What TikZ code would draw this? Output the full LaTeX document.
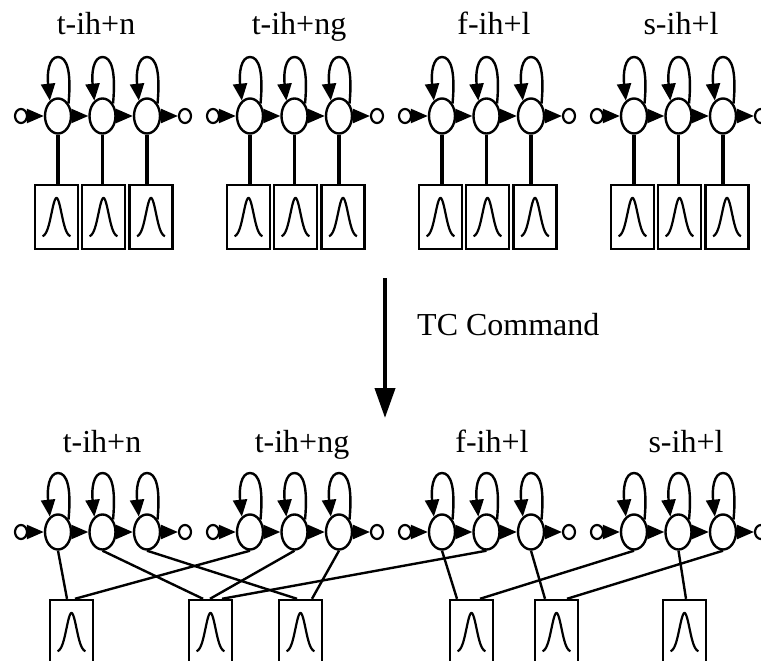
\documentclass[tikz,border=0pt]{standalone}
\usepackage{fontspec}
\setmainfont{Liberation Serif}
\usetikzlibrary{arrows.meta,shapes.geometric}

\begin{document}
\begin{tikzpicture}[x=1pt, y=-1pt,
  font=\fontsize{32}{38}\selectfont,
  state/.style={draw, ellipse, line width=2.4pt, minimum width=26pt, minimum height=35pt, inner sep=0pt},
  term/.style={draw, ellipse, line width=2.2pt, minimum width=12pt, minimum height=14pt, inner sep=0pt},
  pdfbox/.style={draw, line width=2.4pt, minimum width=43pt, minimum height=64pt, inner sep=0pt,
    path picture={\draw[line width=2.2pt, shift={(path picture bounding box.center)}]
      plot[domain=-14:14, samples=50, smooth] (\x, {20-39*exp(-((\x)^2)/50)});}},
  trans/.style={-{Triangle[length=17pt,width=14pt]}, line width=2.4pt},
  stem/.style={line width=3.6pt},
  tie/.style={line width=2.4pt},
  big/.style={-{Triangle[length=30pt,width=20pt]}, line width=4pt}]
  \useasboundingbox (0,0) rectangle (761,661);
  % both rows of HMMs
  \foreach \r/\ry in {a/116,b/532}{
    \foreach \g/\gx in {1/58,2/250,3/442,4/634}{
      \node[term] (\r\g i) at (\gx-37,\ry) {};
      \foreach \s/\dx in {1/0,2/44.5,3/89}{
        \node[state] (\r\g\s) at (\gx+\dx,\ry) {};
        \path (\r\g\s.center) ++(0,-59) coordinate (\r\g\s t);
        \draw[trans] (\r\g\s.50) .. controls +(3,-32) and +(9,0) .. (\r\g\s t)
          .. controls +(-9,0) and +(-3,-28) .. (\r\g\s.118);
      }
      \node[term] (\r\g o) at (\gx+127,\ry) {};
      \draw[trans] (\r\g i) -- (\r\g 1);
      \draw[trans] (\r\g 1) -- (\r\g 2);
      \draw[trans] (\r\g 2) -- (\r\g 3);
      \draw[trans] (\r\g 3) -- (\r\g o);
    }
  }
  % model names
  \foreach \n/\txt/\lx/\ly in {ta/t-ih+n/96/35, tb/t-ih+ng/299/35, tc/f-ih+l/494/35, td/s-ih+l/681/35,
                               ba/t-ih+n/102/452, bb/t-ih+ng/302/452, bc/f-ih+l/492/452, bd/s-ih+l/686/452}
    \node[anchor=base, inner sep=0pt] (\n) at (\lx,\ly) {\txt};
  % untied output pdfs
  \foreach \g/\gx in {1/58,2/250,3/442,4/634}{
    \foreach \s/\dx in {1/-1.5,2/45.5,3/93}{
      \node[pdfbox] (p\g\s) at (\gx+\dx,217) {};
      \draw[stem] (a\g\s.south) -- (a\g\s.south |- p\g\s.north);
    }
  }
  % TC Command
  \coordinate (from) at (385,278);
  \coordinate (to) at (385,418);
  \draw[big] (from) -- (to);
  \node[anchor=base west, inner sep=0pt] (cmd) at (417,335) {TC Command};
  % tied pdfs
  \node[pdfbox] (q1) at (71.5,632) {};
  \node[pdfbox] (q2) at (210.5,632) {};
  \node[pdfbox] (q3) at (300.5,632) {};
  \node[pdfbox] (q4) at (471.5,632) {};
  \node[pdfbox] (q5) at (556.5,632) {};
  \node[pdfbox] (q6) at (684.5,632) {};
  \foreach \f/\t/\d in {b11/q1/-4.5, b21/q1/3.5, b12/q2/-7.5, b22/q2/-0.5, b32/q2/11.5,
                        b13/q3/-3.5, b23/q3/11.5, b31/q4/-14.5, b41/q4/8.5,
                        b33/q5/-11.5, b43/q5/10.5, b42/q6/1.5}
    \draw[tie] (\f.south) -- ([xshift=\d pt]\t.north);
\end{tikzpicture}
\end{document}
